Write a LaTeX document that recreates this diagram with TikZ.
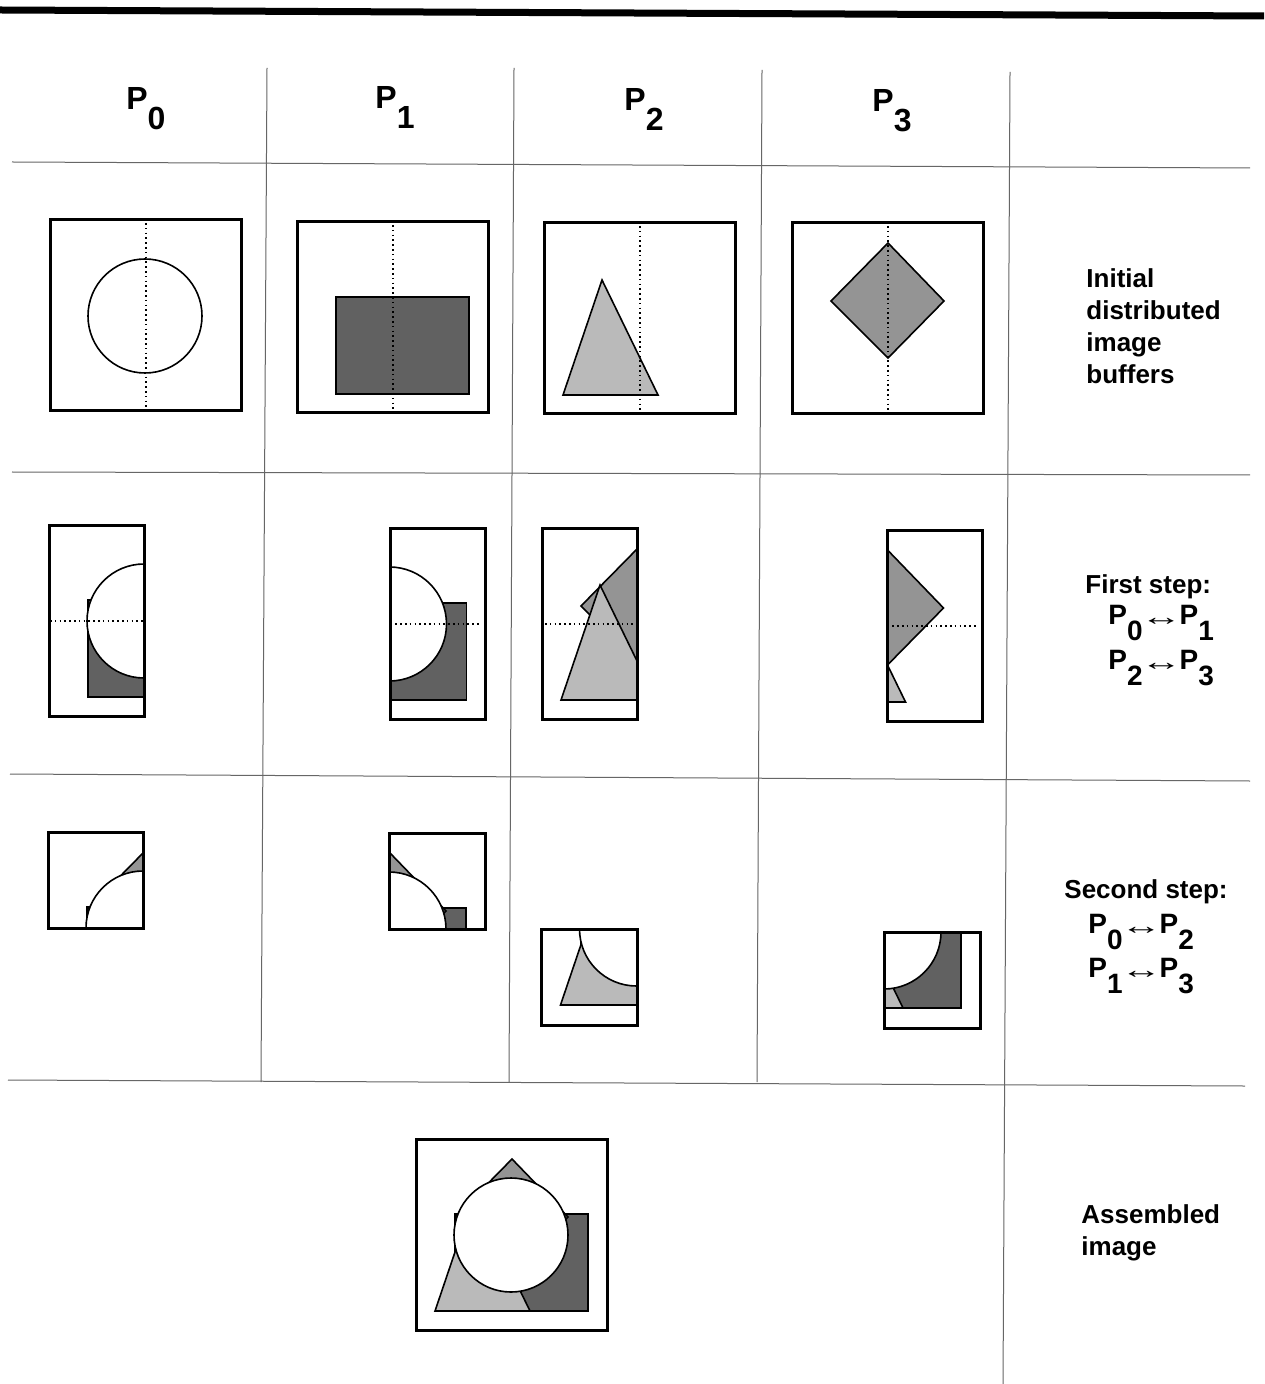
\documentclass[tikz,border=0pt]{standalone}
\usepackage{fontspec}
\setmainfont{Liberation Sans}
\newcommand\Pk[1]{P\raisebox{-0.6em}{#1}}
\newcommand\Arr{\hspace{-1.2pt}\raisebox{-0.5pt}{\scalebox{1.9}[1.15]{\fontsize{11}{11}\selectfont ↔}}\hspace{-1.2pt}}
\newcommand\ShRect{\filldraw[rectfill] (39,75) rectangle (172,172);}
\newcommand\ShDia{\filldraw[diafill] (96,20) -- (152,78) -- (96,135) -- (39,78) -- cycle;}
\newcommand\ShTri{\filldraw[trifill] (58,57) -- (114,172) -- (19,172) -- cycle;}
\newcommand\ShCirc{\filldraw[circfill] (95,96) circle (57);}
\tikzset{
  frame/.style={draw=black, line width=1.5pt},
  outl/.style={draw=black, line width=0.8pt, line join=miter},
  rectfill/.style={outl, fill=black!62},
  diafill/.style={outl, fill=black!42},
  trifill/.style={outl, fill=black!27},
  circfill/.style={outl, fill=white},
  dotline/.style={line width=1pt, dash pattern=on 0.8pt off 1.6pt},
  gridline/.style={draw=black!60, line width=0.5pt},
  topbar/.style={draw=black, line width=3.5pt},
  hdr/.style={inner sep=0pt, anchor=base west, font=\fontsize{16}{18}\selectfont\bfseries},
  lbl/.style={inner sep=0pt, anchor=base west, font=\fontsize{13}{16}\selectfont\bfseries},
  plbl/.style={inner sep=0pt, anchor=base west, font=\fontsize{14}{16}\selectfont\bfseries},
}
\begin{document}
\begin{tikzpicture}[x=0.5pt, y=-0.5pt]
\useasboundingbox (0,0) rectangle (1264,1384);
\fill[white] (0,0) rectangle (1264,1384);
% table rules
\draw[topbar] (0,10) -- (1264,16);
\draw[gridline] (12,162) -- (1250,168);
\draw[gridline] (12,472) -- (1250,475);
\draw[gridline] (10,774) -- (1250,781);
\draw[gridline] (8,1080) -- (1245,1086);
\draw[gridline] (267,68) -- (261,1082);
\draw[gridline] (514,68) -- (509,1082);
\draw[gridline] (762,70) -- (757,1082);
\draw[gridline] (1010,72) -- (1003,1384);
% headers
\node[hdr] (h0) at (126,110) {\Pk{0}};
\node[hdr] (h1) at (375,109) {\Pk{1}};
\node[hdr] (h2) at (624,111) {\Pk{2}};
\node[hdr] (h3) at (872,112) {\Pk{3}};
% ---------- Row 1 ----------
\begin{scope}[shift={(50,220)}]
  \begin{scope}\clip (0,0) rectangle (191,191); \ShCirc \end{scope}
  \draw[dotline] (95.5,3) -- (95.5,187);
  \draw[frame] (0,0) rectangle (191,191);
\end{scope}
\begin{scope}[shift={(297,222)}]
  \begin{scope}\clip (0,0) rectangle (191,191); \ShRect \end{scope}
  \draw[dotline] (95.5,3) -- (95.5,187);
  \draw[frame] (0,0) rectangle (191,191);
\end{scope}
\begin{scope}[shift={(544,223)}]
  \begin{scope}\clip (0,0) rectangle (191,191); \ShTri \end{scope}
  \draw[dotline] (96,3) -- (96,187);
  \draw[frame] (0,0) rectangle (191,191);
\end{scope}
\begin{scope}[shift={(792,223)}]
  \begin{scope}\clip (0,0) rectangle (191,191); \ShDia \end{scope}
  \draw[dotline] (96,3) -- (96,187);
  \draw[frame] (0,0) rectangle (191,191);
\end{scope}
% ---------- Row 2 ----------
\begin{scope}[shift={(49,525)}]
  \begin{scope}\clip (0,0) rectangle (95.5,191); \ShRect \ShCirc \end{scope}
  \draw[dotline] (1,96) -- (95,96);
  \draw[frame] (0,0) rectangle (95.5,191);
\end{scope}
\begin{scope}[shift={(294.5,528)}]
  \begin{scope}\clip (95.5,0) rectangle (191,191); \ShRect \ShCirc \end{scope}
  \draw[dotline] (96,96) -- (187,96);
  \draw[frame] (95.5,0) rectangle (191,191);
\end{scope}
\begin{scope}[shift={(542,528)}]
  \begin{scope}\clip (0,0) rectangle (95.5,191); \ShDia \ShTri \end{scope}
  \draw[dotline] (3,96) -- (95,96);
  \draw[frame] (0,0) rectangle (95.5,191);
\end{scope}
\begin{scope}[shift={(791.5,530)}]
  \begin{scope}\clip (95.5,0) rectangle (191,191); \ShDia \ShTri \end{scope}
  \draw[dotline] (96,96) -- (187,96);
  \draw[frame] (95.5,0) rectangle (191,191);
\end{scope}
% ---------- Row 3 ----------
\begin{scope}[shift={(48,832)}]
  \begin{scope}\clip (0,0) rectangle (95.5,96); \ShRect \ShDia \ShTri \ShCirc \end{scope}
  \draw[frame] (0,0) rectangle (95.5,96);
\end{scope}
\begin{scope}[shift={(294,833)}]
  \begin{scope}\clip (95.5,0) rectangle (191,96); \ShRect \ShDia \ShTri \ShCirc \end{scope}
  \draw[frame] (95.5,0) rectangle (191,96);
\end{scope}
\begin{scope}[shift={(541.5,833)}]
  \begin{scope}\clip (0,96) rectangle (95.5,192); \ShRect \ShDia \ShTri \ShCirc \end{scope}
  \draw[frame] (0,96) rectangle (95.5,192);
\end{scope}
\begin{scope}[shift={(789,836)}]
  \begin{scope}\clip (95.5,96) rectangle (191,192); \ShRect \ShDia \ShTri \ShCirc \end{scope}
  \draw[frame] (95.5,96) rectangle (191,192);
\end{scope}
% ---------- Row 4 ----------
\begin{scope}[shift={(416,1139)}]
  \begin{scope}\clip (0,0) rectangle (191,191); \ShRect \ShDia \ShTri \ShCirc \end{scope}
  \draw[frame] (0,0) rectangle (191,191);
\end{scope}
% ---------- Right labels ----------
\node[lbl] (l1a) at (1086,288) {Initial};
\node[lbl] (l1b) at (1086,320) {distributed};
\node[lbl] (l1c) at (1086,352) {image};
\node[lbl] (l1d) at (1086,384) {buffers};
\node[lbl] (l2a) at (1085,593) {First step:};
\node[plbl] (l2b) at (1108,624) {\Pk{0}\Arr\Pk{1}};
\node[plbl] (l2c) at (1108,669) {\Pk{2}\Arr\Pk{3}};
\node[lbl] (l3a) at (1064,898) {Second step:};
\node[plbl] (l3b) at (1088,933) {\Pk{0}\Arr\Pk{2}};
\node[plbl] (l3c) at (1088,977) {\Pk{1}\Arr\Pk{3}};
\node[lbl] (l4a) at (1081,1223) {Assembled};
\node[lbl] (l4b) at (1081,1255) {image};
\end{tikzpicture}
\end{document}
